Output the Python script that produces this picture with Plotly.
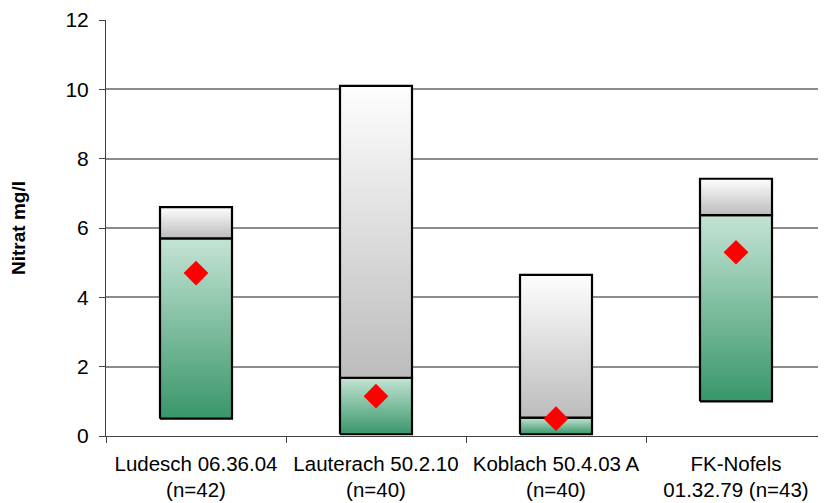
import plotly.graph_objects as go

# Messstellen
stellen = ['Ludesch 06.36.04<br>(n=42)', 'Lauterach 50.2.10<br>(n=40)',
           'Koblach 50.4.03 A<br>(n=40)', 'FK-Nofels<br>01.32.79 (n=43)']
minimum = [0.5, 0.05, 0.05, 1.0]
median = [5.7, 1.68, 0.53, 6.37]
maximum = [6.6, 10.1, 4.65, 7.42]
mittel = [4.7, 1.15, 0.5, 5.3]

GREEN = [[0, '#38966a'], [1, '#c4e4d4']]
GRAY = [[0, '#bcbcbc'], [1, '#fefefe']]
half = 0.2

fig = go.Figure()

def box(i, lo, hi, scale):
    xs = [i - half, i + half, i + half, i - half, i - half]
    ys = [lo, lo, hi, hi, lo]
    fig.add_trace(go.Scatter(
        x=xs, y=ys, mode='lines', fill='toself',
        fillgradient=dict(type='vertical', colorscale=scale),
        line=dict(color='black', width=2.2), hoverinfo='skip', showlegend=False))

for i in range(len(stellen)):
    box(i, minimum[i], median[i], GREEN)
    box(i, median[i], maximum[i], GRAY)

fig.add_trace(go.Scatter(
    x=list(range(len(stellen))), y=mittel, mode='markers',
    marker=dict(symbol='diamond', size=19, color='#ff0000'),
    showlegend=False))

# unsichtbare Spur fuer die Kategorie-Teilstriche
fig.add_trace(go.Scatter(x=[0], y=[0], xaxis='x2', mode='markers',
                         marker=dict(opacity=0), hoverinfo='skip', showlegend=False))

# Seite hat 8px Rand -> Figur etwas kleiner
fig.update_layout(
    width=818, height=495,
    margin=dict(l=98, r=0, t=12, b=67),
    paper_bgcolor='white', plot_bgcolor='white',
    font=dict(family='Liberation Sans, Arial', size=20, color='black'),
    xaxis=dict(range=[-0.5, 3.5], tickvals=[0, 1, 2, 3], ticktext=stellen,
               ticks='', showgrid=False, zeroline=False,
               showline=True, linecolor='#404040', linewidth=1,
               tickfont=dict(size=20.5), ticklabelstandoff=9, automargin=False),
    xaxis2=dict(overlaying='x', anchor='y', side='bottom', range=[-0.5, 3.5],
                tickvals=[-0.5, 0.5, 1.5, 2.5, 3.5], ticks='outside', ticklen=6,
                tickcolor='#404040', showticklabels=False, showgrid=False,
                zeroline=False, showline=False),
    yaxis=dict(range=[0, 12], tickvals=[0, 2, 4, 6, 8, 10, 12],
               ticks='outside', ticklen=6, tickcolor='#404040',
               showgrid=True, gridcolor='#8c8c8c', gridwidth=1.5, zeroline=False,
               showline=True, linecolor='#404040', linewidth=1,
               tickfont=dict(size=21), ticklabelstandoff=6, automargin=False,
               title=dict(text='<b>Nitrat mg/l</b>', font=dict(size=19), standoff=40)),
)

fig.write_html("out.html")
